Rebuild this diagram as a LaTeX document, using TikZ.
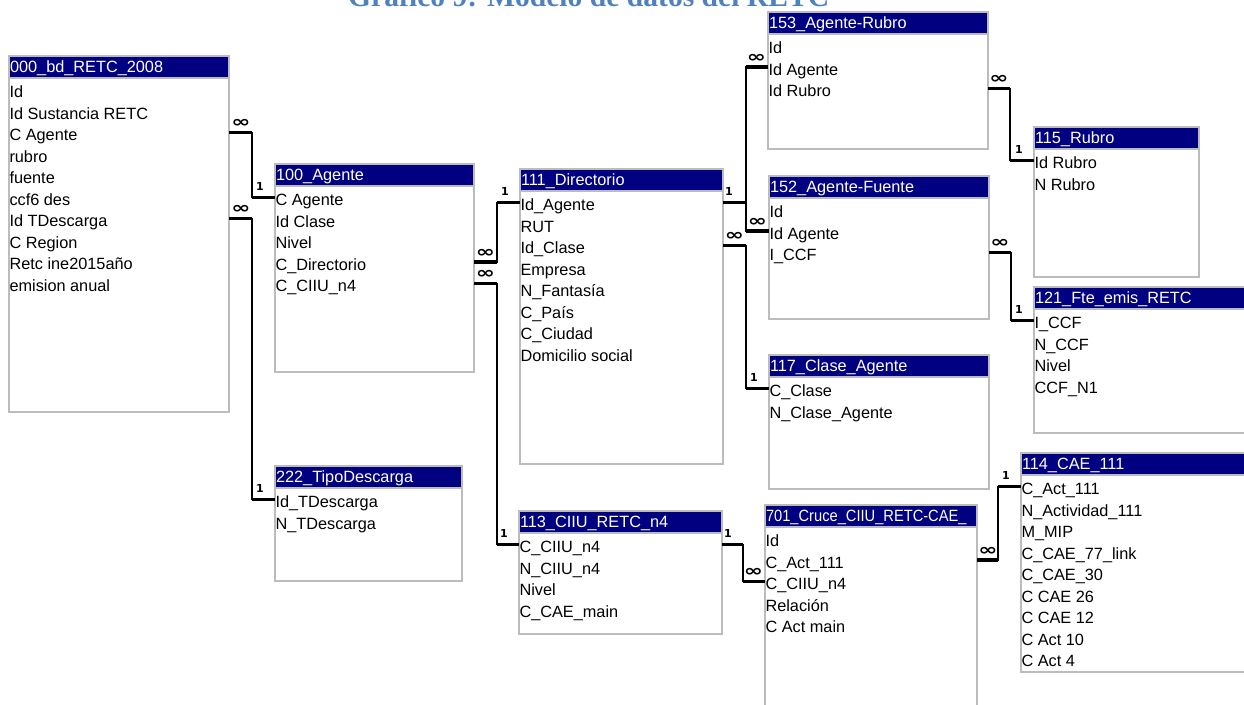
\documentclass[tikz,border=0pt]{standalone}
\usepackage{fontspec}
\usepackage{graphicx}
\setmainfont{Liberation Sans}
\newfontfamily\titlefont{Liberation Serif}
\newfontfamily\symfont{DejaVu Sans}
\usetikzlibrary{calc}
\definecolor{navy}{RGB}{0,0,128}
\definecolor{tgray}{RGB}{188,188,188}
\definecolor{titleblue}{RGB}{79,129,189}
\tikzset{
 tblbox/.style={draw=tgray, line width=1.6pt, fill=white, anchor=north west, inner sep=0pt, outer sep=0pt, rectangle},
 tblhead/.style={draw=tgray, line width=1.6pt, fill=navy, anchor=north west, inner sep=0pt, outer sep=0pt, minimum height=22pt, rectangle},
 headtxt/.style={anchor=base west, inner sep=0pt, outer sep=0pt, text=white, font=\fontsize{16.3}{18}\selectfont},
 rowtxt/.style={anchor=base west, inner sep=0pt, outer sep=0pt, text height=16pt, text depth=0pt, font=\fontsize{16.3}{18}\selectfont},
 rel/.style={draw=black, line width=1.4pt},
 stub/.style={draw=black, line width=3.6pt, line cap=butt},
 blip/.style={draw=black, line width=2.6pt, line cap=butt},
 manylab/.style={inner sep=0pt, font=\symfont\bfseries\fontsize{17}{17}\selectfont},
 onelab/.style={inner sep=0pt, font=\symfont\bfseries\fontsize{11}{11}\selectfont},
 titletxt/.style={anchor=base west, inner sep=0pt, text=titleblue, font=\titlefont\bfseries\fontsize{29.6}{30}\selectfont},
}
% #1 name, #2 left x, #3 top y, #4 width, #5 height, #6 title, #7 rows
\newcommand\erdtab[7]{%
 \node[tblbox, minimum width=#4pt, minimum height=#5pt] (#1) at (#2,#3) {};
 \node[tblhead, minimum width=#4pt] (#1h) at (#2,#3) {};
 \node[headtxt] (#1t) at (#2+1,#3+16.5) {#6};
 \foreach \rowtext [count=\i] in {#7} {\node[rowtxt] (#1-\i) at (#2+0.5,#3+20+\i*21.5) {\rowtext};}
}
% #1 src table, #2 src row, #3 bend, #4 dst table, #5 dst row
\newcommand\relline[5]{%
 \draw[rel] (#1.east |- #2) -| (#3 |- #5) -- (#4.west |- #5);
 \draw[stub] (#1.east |- #2) -- (#3 |- #2);
 \draw[stub] (#3 |- #5) -- (#4.west |- #5);
}
\newcommand\many{\scalebox{1.35}[0.95]{∞}}
\begin{document}
\begin{tikzpicture}[x=1pt,y=-1pt]
\useasboundingbox (0,0) rectangle (1244,704);
\clip (0,0) rectangle (1244,704);
\fill[white] (0,0) rectangle (1244,704);

\node[titletxt] (title) at (348,6) {Gráfico 9: Modelo de datos del RETC};

\erdtab{T000}{9}{56}{220}{356}{000\_bd\_RETC\_2008}{Id,Id Sustancia RETC,C Agente,rubro,fuente,ccf6 des,Id TDescarga,C Region,Retc ine2015año,emision anual}
\erdtab{T100}{275}{164}{199}{208}{100\_Agente}{C Agente,Id Clase,Nivel,C\_Directorio,C\_CIIU\_n4}
\erdtab{T222}{275}{466}{187}{115}{222\_TipoDescarga}{Id\_TDescarga,N\_TDescarga}
\erdtab{T111}{520}{169}{203}{295}{111\_Directorio}{Id\_Agente,RUT,Id\_Clase,Empresa,N\_Fantasía,C\_País,C\_Ciudad,Domicilio social}
\erdtab{T113}{519}{511}{203}{123}{113\_CIIU\_RETC\_n4}{C\_CIIU\_n4,N\_CIIU\_n4,Nivel,C\_CAE\_main}
\erdtab{T153}{768}{12}{220}{137}{153\_Agente-Rubro}{Id,Id Agente,Id Rubro}
\erdtab{T115}{1034}{127}{165}{150}{115\_Rubro}{Id Rubro,N Rubro}
\erdtab{T152}{769}{176}{220}{143}{152\_Agente-Fuente}{Id,Id Agente,I\_CCF}
\erdtab{T121}{1034}{287}{240}{146}{121\_Fte\_emis\_RETC}{I\_CCF,N\_CCF,Nivel,CCF\_N1}
\erdtab{T117}{769}{355}{220}{134}{117\_Clase\_Agente}{C\_Clase,N\_Clase\_Agente}
\erdtab{T701}{765}{505}{212}{215}{\scalebox{0.9}[1]{701\_Cruce\_CIIU\_RETC-CAE\_}}{Id,C\_Act\_111,C\_CIIU\_n4,Relación,C Act main}
\erdtab{T114}{1021}{453}{240}{219}{114\_CAE\_111}{C\_Act\_111,N\_Actividad\_111,M\_MIP,C\_CAE\_77\_link,C\_CAE\_30,C CAE 26,C CAE 12,C Act 10,C Act 4}

\coordinate (k1) at (252,0);
\coordinate (k3) at (497,0);
\coordinate (k5) at (746,0);
\coordinate (k8) at (1010,0);
\coordinate (k9) at (1011,0);
\coordinate (k10) at (743,0);
\coordinate (k11) at (998,0);

\relline{T000}{T000-3}{k1}{T100}{T100-1}
\relline{T000}{T000-7}{k1}{T222}{T222-1}
\relline{T100}{T100-4}{k3}{T111}{T111-1}
\relline{T100}{T100-5}{k3}{T113}{T113-1}
\relline{T111}{T111-1}{k5}{T153}{T153-2}
\relline{T111}{T111-1}{k5}{T152}{T152-2}
\relline{T111}{T111-3}{k5}{T117}{T117-1}
\relline{T153}{T153-3}{k8}{T115}{T115-1}
\relline{T152}{T152-3}{k9}{T121}{T121-1}
\relline{T113}{T113-1}{k10}{T701}{T701-3}
\relline{T701}{T701-2}{k11}{T114}{T114-1}

\draw[blip] (746,118) -- (746,150);
\draw[blip] (1010,120) -- (1010,133);

% cardinality labels
\path (T000.east |- T000-3) ++(12,-9) node[manylab] (m1) {\many};
\path (T100.west |- T100-1) ++(-15,-11) node[onelab] (o1) {1};
\path (T000.east |- T000-7) ++(12,-9) node[manylab] (m2) {\many};
\path (T222.west |- T222-1) ++(-15,-11) node[onelab] (o2) {1};
\path (T100.east |- T100-4) ++(11.5,-9) node[manylab] (m3) {\many};
\path (T111.west |- T111-1) ++(-15,-11) node[onelab] (o3) {1};
\path (T100.east |- T100-5) ++(11.5,-9) node[manylab] (m4) {\many};
\path (T113.west |- T113-1) ++(-15,-11) node[onelab] (o4) {1};
\path (T111.east |- T111-1) ++(6,-11) node[onelab] (o5) {1};
\path (T153.west |- T153-2) ++(-11.5,-9) node[manylab] (m5) {\many};
\path (T152.west |- T152-2) ++(-11.5,-9) node[manylab] (m6) {\many};
\path (T111.east |- T111-3) ++(11.5,-9) node[manylab] (m7) {\many};
\path (T117.west |- T117-1) ++(-15,-11) node[onelab] (o7) {1};
\path (T153.east |- T153-3) ++(11,-9) node[manylab] (m8) {\many};
\path (T115.west |- T115-1) ++(-15,-11) node[onelab] (o8) {1};
\path (T152.east |- T152-3) ++(11,-9) node[manylab] (m9) {\many};
\path (T121.west |- T121-1) ++(-15,-11) node[onelab] (o9) {1};
\path (T113.east |- T113-1) ++(6,-11) node[onelab] (o10) {1};
\path (T701.west |- T701-3) ++(-11.5,-9) node[manylab] (m10) {\many};
\path (T701.east |- T701-2) ++(11,-9) node[manylab] (m11) {\many};
\path (T114.west |- T114-1) ++(-15,-11) node[onelab] (o11) {1};
\end{tikzpicture}
\end{document}
